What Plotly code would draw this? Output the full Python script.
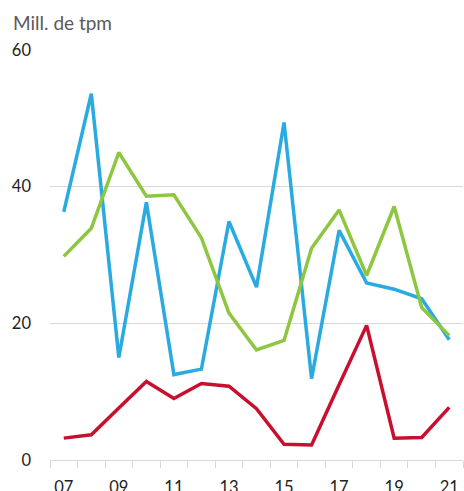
import plotly.graph_objects as go

years = list(range(2007, 2022))
year_labels = ["07", "09", "11", "13", "15", "17", "19", "21"]
y_ticks = [0, 20, 40, 60]

blue = [36.3, 53.6, 15.0, 37.7, 12.5, 13.3, 34.9, 25.3, 49.4, 11.9, 33.6, 25.9, 25.0, 23.6, 17.6]
green = [29.8, 33.9, 45.0, 38.6, 38.8, 32.5, 21.5, 16.1, 17.5, 31.0, 36.6, 27.0, 37.1, 22.3, 18.2]
red = [3.2, 3.7, 7.6, 11.5, 9.0, 11.2, 10.8, 7.5, 2.3, 2.2, 11.0, 19.7, 3.2, 3.3, 7.7]

series = [
    (blue, "#29ABE2"),
    (green, "#8DC63F"),
    (red, "#C8102E"),
]

fig = go.Figure()
for vals, color in series:
    fig.add_trace(go.Scatter(
        x=years, y=vals, mode="lines",
        line=dict(color=color, width=3.5),
        showlegend=False, hoverinfo="skip",
    ))

fig.update_layout(
    width=464, height=491,
    margin=dict(l=50, r=1, t=50, b=31, autoexpand=False),
    paper_bgcolor="white", plot_bgcolor="white",
    font=dict(family="Lato", size=16.5, color="#222222"),
    annotations=[dict(
        text="Mill. de tpm", xref="paper", yref="paper",
        x=-0.095, y=1.0, yshift=28, xanchor="left", yanchor="middle",
        showarrow=False, font=dict(size=19, color="#595959"),
    )],
)

fig.update_xaxes(
    range=[2006.5, 2021.5],
    tickvals=list(range(2007, 2022, 2)),
    ticktext=year_labels,
    ticks="", showgrid=False,
    showline=True, linecolor="#d9d9d9", linewidth=1,
    ticklabelstandoff=12,
    automargin=False,
    minor=dict(tickvals=[y + 0.5 for y in range(2006, 2022)],
               ticks="outside", ticklen=7, tickcolor="#d9d9d9", showgrid=False),
    zeroline=False, fixedrange=True,
)
fig.update_yaxes(
    range=[0, 60],
    tickvals=y_ticks,
    showgrid=True, gridcolor="#d9d9d9", gridwidth=1,
    zeroline=False, showline=False, ticks="",
    ticklabelstandoff=18,
    automargin=False,
    fixedrange=True,
)

fig.write_html("out.html")
